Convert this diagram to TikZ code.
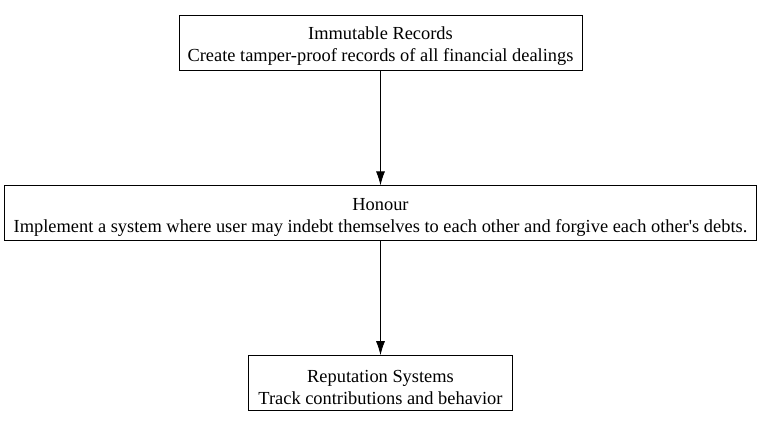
\documentclass[tikz,border=0pt]{standalone}
\usepackage{fontspec}
\setmainfont{Liberation Serif}
\usetikzlibrary{arrows.meta,positioning}
\newcommand{\upskip}{\rule{0pt}{20pt}}

\begin{document}
\begin{tikzpicture}[node distance=115pt,>={Latex[length=14pt,width=9pt]},
  box/.style={draw,thick,align=center,minimum height=55pt,inner xsep=7pt,inner ysep=2pt,font=\fontsize{18.4}{22}\selectfont}]
\useasboundingbox (0,0) rectangle (763pt,-425pt);
\node[box,minimum width=403pt] (rec) at (380.5pt,-42.5pt) {\upskip Immutable Records\\Create tamper-proof records of all financial dealings};
\node[box,below=of rec,minimum width=752pt] (hon) {\upskip Honour\\Implement a system where user may indebt themselves to each other and forgive each other\textquotesingle s debts.};
\node[box,below=114pt of hon,minimum width=264pt] (rep) {\upskip Reputation Systems\\Track contributions and behavior};
\draw[->,thick] (rec)--(hon);
\draw[->,thick] (hon)--(rep);
\end{tikzpicture}
\end{document}
